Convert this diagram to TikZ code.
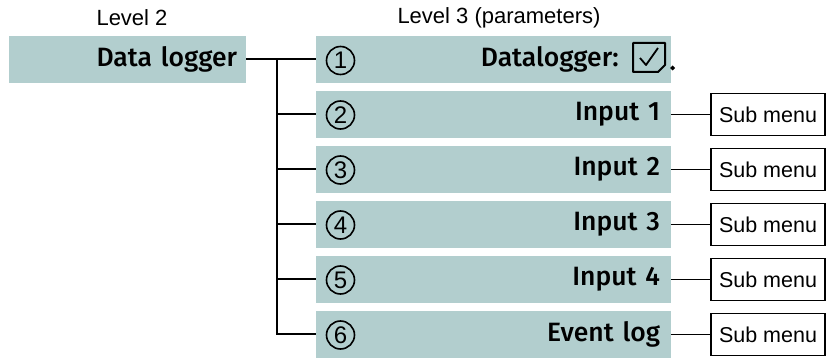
\documentclass[tikz,border=0pt]{standalone}
\usepackage{fontspec}
\setmainfont{Liberation Sans}
\newfontfamily\boxfont{Fira Sans Medium}
\definecolor{boxfill}{HTML}{B2CECE}
\begin{document}
\begin{tikzpicture}[x=1pt,y=-1pt,
  lbl/.style={font=\fontsize{22}{26}\selectfont, inner sep=0pt},
  rowbox/.style={fill=boxfill, minimum width=355pt, minimum height=47pt, text width=333pt, inner xsep=11pt, inner ysep=0pt, align=right, font=\boxfont\fontsize{26.5}{30}\selectfont},
  lvbox/.style={fill=boxfill, minimum width=237pt, minimum height=47pt, text width=219pt, inner xsep=9pt, inner ysep=0pt, align=right, font=\boxfont\fontsize{26.5}{30}\selectfont},
  num/.style={circle, draw, line width=1.6pt, minimum size=28pt, inner sep=0pt, font=\fontsize{24}{26}\selectfont},
  sub/.style={draw, line width=1.1pt, minimum width=114pt, minimum height=42pt, inner sep=0pt, fill=white, font=\fontsize{21.5}{25}\selectfont},
  conn/.style={line width=2pt},
  thinconn/.style={line width=1.3pt}]
\path[use as bounding box, fill=white] (0,0) rectangle (828,358);
\node[lbl] (l2) at (132,18) {Level 2};
\node[lbl] (l3) at (499,18) {Level 3 (parameters)};
\node[lvbox] (dl) at (127.5,59.5) {Data logger};
\node[rowbox] (r1) at (493.5,59.5) {};
\node[rowbox] (r2) at (493.5,114.5) {Input 1};
\node[rowbox] (r3) at (493.5,169.5) {Input 2};
\node[rowbox] (r4) at (493.5,224.5) {Input 3};
\node[rowbox] (r5) at (493.5,279.5) {Input 4};
\node[rowbox] (r6) at (493.5,334.5) {Event log};
\node[anchor=east, inner sep=0pt, font=\boxfont\fontsize{26.5}{30}\selectfont] (t1) at (619,59.5) {Datalogger:};
\draw[line width=2pt, line join=round] (633,43) -- (665,43) -- (665,65) -- (658,72) -- (633,72) -- cycle;
\draw[line width=1.8pt, line join=round] (640,58) -- (646,65) -- (658,48);
\fill (670,68) -- (672.5,65.5) -- (675,68) -- (672.5,70.5) -- cycle;
\foreach \i/\y in {1/60.5,2/115,3/170,4/225,5/280,6/335}{
  \node[num] (n\i) at (340.5,\y) {\i};
}
\coordinate (bx) at (277,59.5);
\draw[conn] (dl.east) -- (r1.west);
\draw[conn] (bx) |- (r6.west);
\foreach \i in {2,3,4,5}{\draw[conn] (bx |- r\i.west) -- (r\i.west);}
\foreach \i in {2,3,4,5,6}{
  \node[sub] (s\i) at (768,{59.5+55*(\i-1)}) {Sub menu};
  \draw[thinconn] (r\i.east) -- (s\i.west);
}
\end{tikzpicture}
\end{document}
